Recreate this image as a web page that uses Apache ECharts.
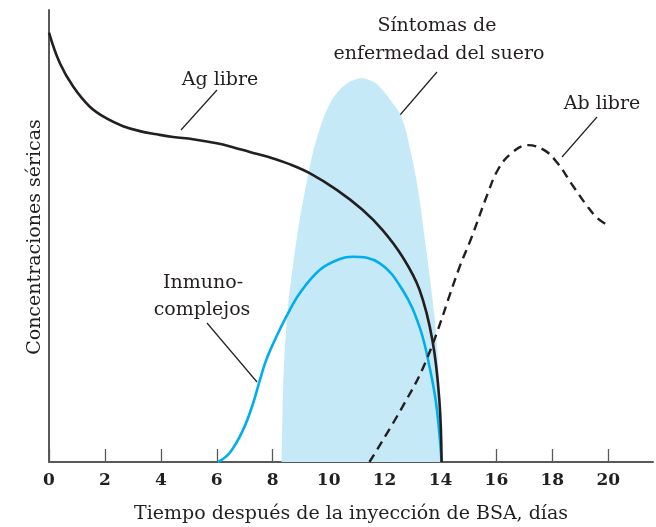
<!DOCTYPE html>
<html>
<head>
<meta charset="utf-8">
<script src="https://cdn.jsdelivr.net/npm/echarts@6/dist/echarts.min.js"></script>
<style>
  html, body { margin: 0; padding: 0; background: #fff; }
  #chart { width: 656px; height: 527px; }
</style>
</head>
<body>
<div id="chart"></div>
<script>
// ticks del eje x (días)
var xTicks = [0, 2, 4, 6, 8, 10, 12, 14, 16, 18, 20];

// Ag libre (línea negra)
var agLibre = [
  [0, 95.0], [0.39, 88.2], [0.87, 83.0], [1.46, 78.6], [2.06, 76.0], [2.65, 74.3],
  [3.25, 73.2], [3.85, 72.5], [4.44, 71.9], [5.15, 71.4], [6.0, 70.5], [6.6, 69.6],
  [7.18, 68.6], [7.89, 67.4], [8.6, 65.9], [9.32, 63.9], [10.29, 60.2], [11.21, 55.8],
  [11.93, 51.3], [12.64, 45.4], [13.25, 38.1], [13.71, 27.0], [13.96, 13.7], [14.04, 0]
];

// Inmunocomplejos (línea azul)
var inmunocomplejos = [
  [6.04, 0], [6.46, 2.0], [6.94, 7.1], [7.3, 13.0], [7.54, 18.1], [7.77, 22.6],
  [8.13, 27.7], [8.49, 32.2], [8.96, 37.3], [9.68, 42.5], [10.4, 44.9], [10.86, 45.4],
  [11.82, 44.0], [12.64, 38.1], [13.25, 29.9], [13.61, 21.0], [13.86, 12.2], [14.04, 0]
];

// Ab libre (línea discontinua)
var abLibre = [
  [11.46, 0], [12.64, 12.2], [13.5, 22.6], [14.68, 43.1], [15.1, 49.5], [15.69, 59.4],
  [16.05, 64.6], [16.53, 68.3], [17.12, 70.1], [17.71, 69.0], [18.19, 66.1],
  [18.67, 61.7], [19.26, 56.5], [19.62, 53.9], [19.98, 52.4]
];

// Síntomas de enfermedad del suero (zona sombreada, borde superior)
var sintomas = [
  [8.32, 0], [8.36, 13.7], [8.43, 24.8], [8.57, 35.8], [8.75, 44.7], [8.96, 53.5],
  [9.23, 62.4], [9.46, 69.0], [9.79, 75.7], [10.11, 80.1], [10.39, 82.3], [10.75, 84.1],
  [11.18, 84.9], [11.61, 84.1], [11.93, 82.3], [12.21, 80.1], [12.54, 77.2],
  [12.75, 73.5], [12.96, 67.9], [13.14, 62.4], [13.27, 57.3], [13.54, 44.7],
  [13.79, 32.1], [13.89, 24.8], [13.98, 13.7], [14.04, 0]
];

var serif = '"DejaVu Serif", "Liberation Serif", serif';
var axisColor = '#58595b';
var ink = '#231f20';

var chart = echarts.init(document.getElementById('chart'));

function label(text, x, y) {
  return {
    type: 'text', x: x, y: y,
    style: { text: text, font: '19px ' + serif, fill: ink, align: 'center', verticalAlign: 'middle' }
  };
}
function leader(x1, y1, x2, y2) {
  return {
    type: 'line',
    shape: { x1: x1, y1: y1, x2: x2, y2: y2 },
    style: { stroke: ink, lineWidth: 1.2 }
  };
}

var option = {
  animation: false,
  grid: { left: 49, right: 3, top: 10, bottom: 65, outerBoundsMode: 'none', containLabel: false },
  xAxis: {
    type: 'value',
    min: 0,
    max: 21.6,
    interval: 2,
    name: 'Tiempo después de la inyección de BSA, días',
    nameLocation: 'middle',
    nameGap: 43,
    nameTextStyle: { fontFamily: serif, fontSize: 19, color: ink },
    axisLine: { lineStyle: { color: axisColor, width: 2 } },
    axisTick: { inside: true, length: 13, lineStyle: { color: axisColor, width: 1.3 } },
    axisLabel: {
      fontFamily: serif, fontSize: 17, fontWeight: 'bold', color: ink, margin: 10,
      showMaxLabel: false,
      formatter: function (v) { return xTicks.indexOf(v) >= 0 ? String(v) : ''; }
    },
    splitLine: { show: false }
  },
  yAxis: {
    type: 'value',
    min: 0,
    max: 100,
    axisLine: { show: true, lineStyle: { color: axisColor, width: 2 } },
    axisTick: { show: false },
    axisLabel: { show: false },
    splitLine: { show: false }
  },
  series: [
    {
      name: 'Síntomas de enfermedad del suero',
      type: 'line',
      data: sintomas,
      smooth: 0.25,
      showSymbol: false,
      lineStyle: { width: 0 },
      areaStyle: { color: '#c6e9f8', opacity: 1 },
      z: 1
    },
    {
      name: 'Inmunocomplejos',
      type: 'line',
      data: inmunocomplejos,
      smooth: 0.4,
      showSymbol: false,
      lineStyle: { color: '#00aeef', width: 2.6 },
      z: 2
    },
    {
      name: 'Ag libre',
      type: 'line',
      data: agLibre,
      smooth: 0.4,
      showSymbol: false,
      lineStyle: { color: ink, width: 2.6 },
      z: 3
    },
    {
      name: 'Ab libre',
      type: 'line',
      data: abLibre,
      smooth: 0.4,
      showSymbol: false,
      lineStyle: { color: ink, width: 2.4, type: [9, 6] },
      z: 3
    }
  ],
  graphic: [
    {
      type: 'text', x: 35, y: 237, rotation: Math.PI / 2,
      style: { text: 'Concentraciones séricas', font: '19px ' + serif, fill: ink, align: 'center', verticalAlign: 'middle' }
    },
    label('Ag libre', 220, 80),
    leader(217, 90, 181, 130),
    label('Síntomas de', 437, 26),
    label('enfermedad del suero', 439, 54),
    leader(437, 72, 400, 115),
    label('Ab libre', 602, 104),
    leader(597, 117, 562, 157),
    label('Inmuno-', 203, 283),
    label('complejos', 202, 310),
    leader(207, 323, 257, 382)
  ]
};

chart.setOption(option);
</script>
</body>
</html>
